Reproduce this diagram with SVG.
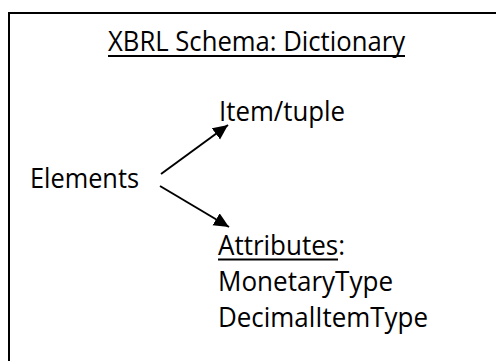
<svg xmlns="http://www.w3.org/2000/svg" width="496" height="361" viewBox="0 0 496 361">
  <defs>
    <style>
      .t { font-family: "Open Sans", "Liberation Sans", sans-serif; font-size: 27px; fill: #000; }
      .frame { fill: none; stroke: #000; stroke-width: 2; }
      .link { fill: none; stroke: #000; stroke-width: 2; }
      .ul { stroke: #000; stroke-width: 2; }
    </style>
    <marker id="head" markerUnits="userSpaceOnUse" markerWidth="18" markerHeight="16" refX="15" refY="7" orient="auto">
      <path d="M0,0 L15,7 L0,14 Z" fill="#000"/>
    </marker>
  </defs>

  <rect width="496" height="361" fill="#fff"/>
  <!-- outer frame (continues past the right and bottom edges) -->
  <rect class="frame" x="9" y="13" width="500" height="360"/>

  <g id="title">
    <text class="t" x="108" y="51" textLength="297" lengthAdjust="spacingAndGlyphs">XBRL Schema: Dictionary</text>
    <line class="ul" x1="108" y1="56" x2="405" y2="56"/>
  </g>

  <g id="elements">
    <text class="t" x="30" y="188" textLength="109" lengthAdjust="spacingAndGlyphs">Elements</text>
  </g>

  <g id="item-tuple">
    <text class="t" x="219" y="121" textLength="126" lengthAdjust="spacingAndGlyphs">Item/tuple</text>
  </g>

  <g id="attributes">
    <text class="t" x="218" y="255" textLength="127" lengthAdjust="spacingAndGlyphs">Attributes:</text>
    <line class="ul" x1="218" y1="259.5" x2="338" y2="259.5"/>
    <text class="t" x="218" y="291" textLength="175" lengthAdjust="spacingAndGlyphs">MonetaryType</text>
    <text class="t" x="218" y="327" textLength="210" lengthAdjust="spacingAndGlyphs">DecimalItemType</text>
  </g>

  <g id="connectors">
    <line class="link" x1="161" y1="174" x2="228" y2="125" marker-end="url(#head)"/>
    <line class="link" x1="160" y1="186" x2="229" y2="227" marker-end="url(#head)"/>
  </g>
</svg>
